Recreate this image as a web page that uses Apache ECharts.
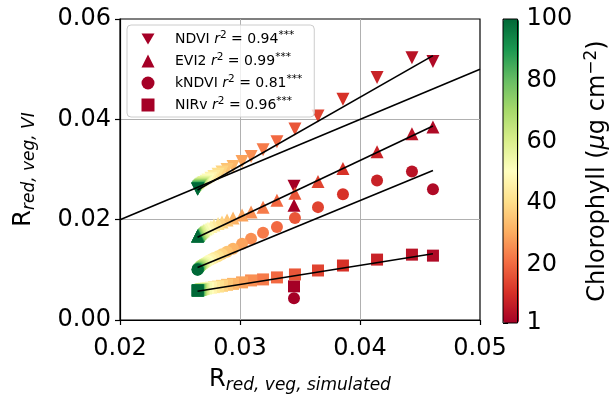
<!DOCTYPE html>
<html>
<head>
<meta charset="utf-8">
<script src="https://cdn.jsdelivr.net/npm/echarts@6/dist/echarts.min.js"></script>
<style>
  html, body { margin: 0; padding: 0; background: #fff; }
  #chart { width: 611px; height: 399px; }
</style>
</head>
<body>
<div id="chart"></div>
<script>
// Leaf chlorophyll content of each simulated canopy (µg cm-2)
const chlorophyll = [1, 3, 5, 8, 11, 14, 17, 20, 23, 26, 29, 32, 35, 38, 41, 44, 47,
  50, 53, 56, 59, 62, 65, 68, 71, 74, 77, 80, 83, 86, 90, 94, 97, 100];

// Simulated red reflectance of the vegetation
const simulatedRed = [0.0345, 0.04608, 0.04433, 0.04142, 0.03858, 0.03650, 0.03458, 0.03308,
  0.03192, 0.03092, 0.03017, 0.02942, 0.02892, 0.02850, 0.02817, 0.02783, 0.02758, 0.02733,
  0.02717, 0.02700, 0.02692, 0.02683, 0.02675, 0.02671, 0.02667, 0.02663, 0.02658, 0.02656,
  0.02653, 0.02652, 0.02650, 0.02648, 0.02647, 0.02646];

// Red reflectance estimated from each vegetation index
const ndviRed = [0.02664, 0.05151, 0.05230, 0.04836, 0.04401, 0.04066, 0.03809, 0.03553,
  0.03395, 0.03257, 0.03158, 0.03059, 0.03000, 0.02950, 0.02905, 0.02860, 0.02825, 0.02790,
  0.02765, 0.02740, 0.02725, 0.02710, 0.02695, 0.02685, 0.02675, 0.02665, 0.02655, 0.02645,
  0.02635, 0.02628, 0.02620, 0.02615, 0.02610, 0.02605];
const evi2Red = [0.02289, 0.03849, 0.03711, 0.03355, 0.03020, 0.02763, 0.02526, 0.02388,
  0.02250, 0.02151, 0.02092, 0.02033, 0.01993, 0.01954, 0.01924, 0.01895, 0.01865, 0.01836,
  0.01816, 0.01796, 0.01776, 0.01757, 0.01747, 0.01737, 0.01727, 0.01717, 0.01707, 0.01697,
  0.01691, 0.01686, 0.01682, 0.01678, 0.01674, 0.01670];
const kndviRed = [0.00434, 0.02605, 0.02961, 0.02783, 0.02507, 0.02250, 0.02033, 0.01855,
  0.01737, 0.01618, 0.01520, 0.01421, 0.01362, 0.01313, 0.01273, 0.01234, 0.01204, 0.01174,
  0.01145, 0.01125, 0.01105, 0.01095, 0.01086, 0.01072, 0.01062, 0.01052, 0.01042, 0.01034,
  0.01026, 0.01020, 0.01014, 0.01011, 0.01007, 0.01003];
const nirvRed = [0.00671, 0.01283, 0.01303, 0.01204, 0.01086, 0.00987, 0.00908, 0.00849,
  0.00809, 0.00789, 0.00750, 0.00720, 0.00701, 0.00681, 0.00667, 0.00655, 0.00645, 0.00636,
  0.00628, 0.00622, 0.00616, 0.00612, 0.00608, 0.00604, 0.00600, 0.00598, 0.00596, 0.00594,
  0.00592, 0.00591, 0.00590, 0.00589, 0.00588, 0.00587];

// Least-squares fits, evaluated at the ends of the simulated range
const fitRange = [0.02646, 0.04608];
const ndviFit = [0.0259, 0.0527];
const evi2Fit = [0.01648, 0.03868];
const kndviFit = [0.01046, 0.0298];
const nirvFit = [0.00572, 0.01322];
// 1:1 reference line
const oneToOne = [0.02, 0.05];

const indexNames = ['NDVI', 'EVI2', 'kNDVI', 'NIRv'];
const rSquared = ['0.94', '0.99', '0.81', '0.96'];

// Tick labels
const xTicks = [0.02, 0.03, 0.04, 0.05];
const yTicks = [0.00, 0.02, 0.04, 0.06];
const chlTicks = [1, 20, 40, 60, 80, 100];

// RdYlGn colour ramp
const rdYlGn = ['#a50026', '#d73027', '#f46d43', '#fdae61', '#fee08b', '#ffffbf',
  '#d9ef8b', '#a6d96a', '#66bd63', '#1a9850', '#006837'];

const FONT = 'DejaVu Sans';
const downTriangle = 'path://M0,0L20,0L10,17.3Z';

function points(ys) {
  return simulatedRed.map((x, i) => [x, ys[i], chlorophyll[i]]);
}
function fitLine(name, ys) {
  return {
    name: name, type: 'line', xAxisIndex: 0, yAxisIndex: 0,
    data: [[fitRange[0], ys[0]], [fitRange[1], ys[1]]],
    symbol: 'none', silent: true, z: 5,
    lineStyle: { color: '#000', width: 1.6 }
  };
}

const markerSpec = [
  { symbol: 'triangle', symbolRotate: 180, symbolSize: 13, icon: downTriangle, ys: ndviRed },
  { symbol: 'triangle', symbolRotate: 0, symbolSize: 13, icon: 'triangle', ys: evi2Red },
  { symbol: 'circle', symbolRotate: 0, symbolSize: 12, icon: 'circle', ys: kndviRed },
  { symbol: 'rect', symbolRotate: 0, symbolSize: 12, icon: 'rect', ys: nirvRed }
];

const scatterSeries = indexNames.map((name, k) => ({
  name: name, type: 'scatter', xAxisIndex: 0, yAxisIndex: 0,
  symbol: markerSpec[k].symbol,
  symbolRotate: markerSpec[k].symbolRotate,
  symbolSize: markerSpec[k].symbolSize,
  itemStyle: { color: '#a50026', opacity: 1 },
  data: points(markerSpec[k].ys),
  z: 2
}));

const r2Lookup = {};
indexNames.forEach((n, i) => { r2Lookup[n] = rSquared[i]; });

const chart = echarts.init(document.getElementById('chart'), null, { renderer: 'canvas' });

chart.setOption({
  animation: false,
  backgroundColor: '#fff',
  textStyle: { fontFamily: FONT },
  grid: [
    { left: 120, top: 19, width: 360, height: 304, show: true,
      borderColor: '#000', borderWidth: 1.2, backgroundColor: 'transparent' },
    { left: 503, top: 19, width: 16, height: 304, show: true, z: 10,
      borderColor: '#000', borderWidth: 1, backgroundColor: 'transparent' }
  ],
  xAxis: [
    {
      type: 'value', gridIndex: 0, min: 0.02, max: 0.05, interval: 0.01,
      axisLine: { show: true, lineStyle: { color: '#000', width: 1.2 } },
      axisTick: { show: true, length: 5, lineStyle: { color: '#000', width: 1.2 } },
      axisLabel: { color: '#000', fontSize: 24, fontFamily: FONT, margin: 17,
        formatter: v => { const t = xTicks.find(a => Math.abs(a - v) < 1e-9); return t === undefined ? '' : t.toFixed(2); } },
      splitLine: { show: true, showMinLine: false, showMaxLine: false, lineStyle: { color: '#b0b0b0', width: 1 } },
      name: '{r|R}{s|red, veg, simulated}',
      nameLocation: 'middle', nameGap: 45,
      nameTextStyle: {
        color: '#000', fontFamily: FONT,
        rich: {
          r: { fontSize: 24, fontFamily: FONT, color: '#000' },
          s: { fontSize: 17, fontStyle: 'italic', fontFamily: FONT, color: '#000', padding: [12, 0, 0, 0] }
        }
      }
    },
    { type: 'value', gridIndex: 1, show: false, min: 0, max: 1 }
  ],
  yAxis: [
    {
      type: 'value', gridIndex: 0, min: 0, max: 0.06, interval: 0.02,
      axisLine: { show: true, lineStyle: { color: '#000', width: 1.2 } },
      axisTick: { show: true, length: 5, lineStyle: { color: '#000', width: 1.2 } },
      axisLabel: { color: '#000', fontSize: 24, fontFamily: FONT, margin: 9,
        formatter: v => { const t = yTicks.find(a => Math.abs(a - v) < 1e-9); return t === undefined ? '' : t.toFixed(2); } },
      splitLine: { show: true, showMinLine: false, showMaxLine: false, lineStyle: { color: '#b0b0b0', width: 1 } },
      name: '{r|R}{s|red, veg, VI}',
      nameLocation: 'middle', nameRotate: 90, nameGap: 82,
      nameTextStyle: {
        color: '#000', fontFamily: FONT,
        rich: {
          r: { fontSize: 24, fontFamily: FONT, color: '#000' },
          s: { fontSize: 17, fontStyle: 'italic', fontFamily: FONT, color: '#000', padding: [12, 0, 0, 0] }
        }
      }
    },
    {
      type: 'value', gridIndex: 1, position: 'right', min: 1, max: 100,
      axisLine: { show: false },
      axisTick: { show: true, length: 5, customValues: chlTicks, lineStyle: { color: '#000', width: 1 } },
      axisLabel: { show: true, customValues: chlTicks, color: '#000', fontSize: 24, fontFamily: FONT, margin: 9 },
      splitLine: { show: false },
      name: 'Chlorophyll ({m|μ}g cm{s|−2})',
      nameLocation: 'middle', nameRotate: 90, nameGap: 66,
      nameTextStyle: {
        color: '#000', fontSize: 24, fontFamily: FONT,
        rich: {
          m: { fontSize: 24, fontStyle: 'italic', fontFamily: FONT, color: '#000' },
          s: { fontSize: 17, fontFamily: FONT, color: '#000', padding: [0, 0, 12, 0] }
        }
      }
    }
  ],
  visualMap: {
    type: 'continuous', seriesIndex: [0, 1, 2, 3], dimension: 2,
    min: 1, max: 100, calculable: false, show: true,
    left: 503, top: 19, itemWidth: 16, itemHeight: 304, padding: 0,
    inRange: { color: rdYlGn }, hoverLink: false
  },
  legend: {
    orient: 'vertical', left: 127, top: 25,
    padding: [5, 12, 5, 14.5],
    itemWidth: 13, itemHeight: 13, itemGap: 6,
    backgroundColor: 'rgba(255,255,255,0.8)', borderColor: '#cccccc', borderWidth: 1, borderRadius: 4,
    selectedMode: false,
    data: indexNames.map((n, k) => ({ name: n, icon: markerSpec[k].icon, itemStyle: { color: '#a50026' } })),
    formatter: n => n + ' {i|r}{s|2}{t| = ' + r2Lookup[n] + '}{s|***}',
    textStyle: {
      color: '#000', fontSize: 14, fontFamily: FONT, padding: [0, 0, 0, 15.5],
      rich: {
        i: { fontSize: 14, fontStyle: 'italic', fontFamily: FONT, color: '#000' },
        s: { fontSize: 10.5, fontFamily: FONT, color: '#000', padding: [0, 0, 7, 0] },
        t: { fontSize: 14, fontFamily: FONT, color: '#000' }
      }
    }
  },
  series: [
    ...scatterSeries,
    fitLine('NDVI fit', ndviFit),
    fitLine('EVI2 fit', evi2Fit),
    fitLine('kNDVI fit', kndviFit),
    fitLine('NIRv fit', nirvFit),
    {
      name: '1:1', type: 'line', xAxisIndex: 0, yAxisIndex: 0,
      data: [[oneToOne[0], oneToOne[0]], [oneToOne[1], oneToOne[1]]],
      symbol: 'none', silent: true, z: 5,
      lineStyle: { color: '#000', width: 1.6 }
    }
  ]
});
</script>
</body>
</html>
